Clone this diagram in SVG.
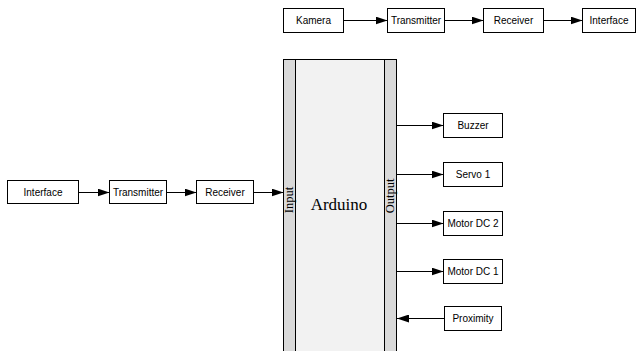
<svg xmlns="http://www.w3.org/2000/svg" width="638" height="351" viewBox="0 0 638 351">
<style>
.box{fill:#fff;stroke:#000;stroke-width:1}
.t{font-family:"Liberation Sans",Arial,sans-serif;font-size:10px;fill:#000;text-anchor:middle}
.s{font-family:"Liberation Serif","Times New Roman",serif;fill:#000;text-anchor:middle}
.c{stroke:#000;stroke-width:1;fill:none;marker-end:url(#ah)}
</style>
<defs>
<marker id="ah" markerWidth="12" markerHeight="8" refX="12" refY="4" orient="auto" markerUnits="userSpaceOnUse">
<path d="M0,0 L12,4 L0,8 Z" fill="#000"/>
</marker>
</defs>
<rect width="638" height="351" fill="#fff"/>
<g id="arduino">
<path d="M283.5,351 V59.5 H396.5 V351" fill="#f2f2f2" stroke="#000"/>
<rect x="283.5" y="59.5" width="12" height="292" fill="#d9d9d9" stroke="#000"/>
<rect x="384.5" y="59.5" width="12" height="292" fill="#d9d9d9" stroke="#000"/>
<text class="s" x="339" y="210" font-size="17">Arduino</text>
<text class="s" font-size="12.5" transform="translate(293,200) rotate(-90)">Input</text>
<text class="s" font-size="12.5" transform="translate(394,196) rotate(-90)">Output</text>
</g>
<g id="kamera"><rect class="box" x="283.5" y="8.5" width="60" height="24"/><text class="t" x="313.5" y="24">Kamera</text></g>
<g id="transmitter-top"><rect class="box" x="387.5" y="8.5" width="57" height="24"/><text class="t" x="416" y="24">Transmitter</text></g>
<g id="receiver-top"><rect class="box" x="483.5" y="8.5" width="60" height="24"/><text class="t" x="513.5" y="24">Receiver</text></g>
<g id="interface-top"><rect class="box" x="582.5" y="8.5" width="53" height="24"/><text class="t" x="609" y="24">Interface</text></g>
<g id="interface-left"><rect class="box" x="7.5" y="180.5" width="71" height="23"/><text class="t" x="43" y="196">Interface</text></g>
<g id="transmitter-left"><rect class="box" x="109.5" y="180.5" width="57" height="23"/><text class="t" x="138" y="196">Transmitter</text></g>
<g id="receiver-left"><rect class="box" x="196.5" y="180.5" width="57" height="23"/><text class="t" x="225" y="196">Receiver</text></g>
<g id="buzzer"><rect class="box" x="443.5" y="113.5" width="59" height="24"/><text class="t" x="473" y="129">Buzzer</text></g>
<g id="servo1"><rect class="box" x="443.5" y="162.5" width="59" height="24"/><text class="t" x="473" y="178">Servo 1</text></g>
<g id="motordc2"><rect class="box" x="443.5" y="211.5" width="59" height="24"/><text class="t" x="473" y="227">Motor DC 2</text></g>
<g id="motordc1"><rect class="box" x="443.5" y="259.5" width="59" height="24"/><text class="t" x="473" y="275">Motor DC 1</text></g>
<g id="proximity"><rect class="box" x="444.5" y="306.5" width="57" height="24"/><text class="t" x="473" y="322">Proximity</text></g>
<g id="connectors">
<line class="c" x1="343.5" y1="20.5" x2="387.5" y2="20.5"/>
<line class="c" x1="444.5" y1="20.5" x2="483.5" y2="20.5"/>
<line class="c" x1="543.5" y1="20.5" x2="582.5" y2="20.5"/>
<line class="c" x1="78.5" y1="192.5" x2="109.5" y2="192.5"/>
<line class="c" x1="166.5" y1="192.5" x2="196.5" y2="192.5"/>
<line class="c" x1="253.5" y1="192.5" x2="283.5" y2="192.5"/>
<line class="c" x1="396.5" y1="125.5" x2="443.5" y2="125.5"/>
<line class="c" x1="396.5" y1="174.5" x2="443.5" y2="174.5"/>
<line class="c" x1="396.5" y1="223.5" x2="443.5" y2="223.5"/>
<line class="c" x1="396.5" y1="271.5" x2="443.5" y2="271.5"/>
<line class="c" x1="444.5" y1="318.5" x2="397" y2="318.5"/>
</g>
</svg>
